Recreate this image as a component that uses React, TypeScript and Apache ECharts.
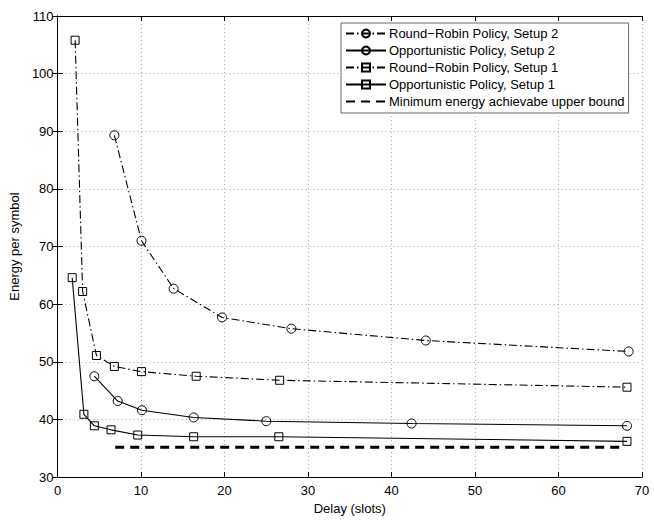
import React, { useEffect, useRef } from "react";
import * as echarts from "echarts";

const rrSetup2X = [6.8, 10.05, 13.9, 19.7, 28.0, 44.1, 68.4];
const rrSetup2Y = [89.3, 71.0, 62.7, 57.7, 55.75, 53.7, 51.8];

const opSetup2X = [4.4, 7.2, 10.1, 16.3, 25.0, 42.4, 68.2];
const opSetup2Y = [47.5, 43.2, 41.6, 40.35, 39.7, 39.3, 38.9];

const rrSetup1X = [2.1, 3.0, 4.65, 6.8, 10.05, 16.6, 26.6, 68.2];
const rrSetup1Y = [105.8, 62.2, 51.1, 49.2, 48.3, 47.5, 46.8, 45.6];

const opSetup1X = [1.75, 3.15, 4.4, 6.4, 9.6, 16.3, 26.5, 68.2];
const opSetup1Y = [64.6, 40.9, 38.9, 38.2, 37.3, 37.0, 37.0, 36.2];

const boundX = [6.9, 67.9];
const boundY = [35.2, 35.2];

const seriesNames = [
  "Round\u2212Robin Policy, Setup 2",
  "Opportunistic Policy, Setup 2",
  "Round\u2212Robin Policy, Setup 1",
  "Opportunistic Policy, Setup 1",
  "Minimum energy achievabe upper bound",
];

const xTicks = { min: 0, max: 70, interval: 10 };
const yTicks = { min: 30, max: 110, interval: 10 };

const pairs = (xs: number[], ys: number[]) => xs.map((x, i) => [x, ys[i]]);

const FONT = "Liberation Sans, Arial, Helvetica, sans-serif";
const DASHDOT = [8, 3, 1.5, 3];

export default function App() {
  const ref = useRef<HTMLDivElement>(null);
  useEffect(() => {
    if (!ref.current) return;
    const chart = echarts.init(ref.current, undefined, { renderer: "svg" });
    const markerStyle = { color: "transparent", borderColor: "#000", borderWidth: 1 };
    const mkLine = (
      name: string,
      data: number[][],
      symbol: string,
      symbolSize: number,
      dash: any
    ) => ({
      name,
      type: "line",
      data,
      symbol,
      symbolSize,
      showSymbol: true,
      itemStyle: markerStyle,
      lineStyle: { color: "#000", width: 1.1, type: dash },
      emphasis: { disabled: true },
      z: 3,
    });
    const option: any = {
      animation: false,
      backgroundColor: "#fff",
      textStyle: { fontFamily: FONT },
      grid: { left: 50, right: 12, top: 16, bottom: 38 },
      legend: {
        orient: "vertical",
        left: 341,
        top: 23,
        width: 294,
        padding: [4, 4, 5, 4],
        itemWidth: 40,
        itemHeight: 10,
        itemGap: 4,
        backgroundColor: "#fff",
        borderColor: "#666",
        borderWidth: 1,
        borderRadius: 0,
        textStyle: { fontFamily: FONT, fontSize: 13, color: "#000", lineHeight: 13, padding: [0, 0, 0, -2] },
        data: seriesNames,
        selectedMode: false,
      },
      xAxis: [
        {
          type: "value",
          ...xTicks,
          position: "bottom",
          name: "Delay (slots)",
          nameLocation: "middle",
          nameGap: 21,
          nameTextStyle: { fontFamily: FONT, fontSize: 13, color: "#000" },
          axisLine: { show: true, lineStyle: { color: "#000", width: 1 } },
          axisTick: { show: true, inside: true, length: 5, lineStyle: { color: "#000" } },
          axisLabel: { fontFamily: FONT, fontSize: 13, color: "#000", margin: 7 },
          splitLine: { show: true, lineStyle: { color: "#aaa", width: 1, type: [1, 3] } },
        },
        {
          type: "value",
          ...xTicks,
          position: "top",
          axisLine: { show: true, lineStyle: { color: "#000", width: 1 } },
          axisTick: { show: true, inside: true, length: 5, lineStyle: { color: "#000" } },
          axisLabel: { show: false },
          splitLine: { show: false },
        },
      ],
      yAxis: [
        {
          type: "value",
          ...yTicks,
          position: "left",
          name: "Energy per symbol",
          nameLocation: "middle",
          nameGap: 33,
          nameTextStyle: { fontFamily: FONT, fontSize: 13, color: "#000" },
          axisLine: { show: true, lineStyle: { color: "#000", width: 1 } },
          axisTick: { show: true, inside: true, length: 5, lineStyle: { color: "#000" } },
          axisLabel: { fontFamily: FONT, fontSize: 13, color: "#000", margin: 4 },
          splitLine: { show: true, lineStyle: { color: "#aaa", width: 1, type: [1, 3] } },
        },
        {
          type: "value",
          ...yTicks,
          position: "right",
          axisLine: { show: true, lineStyle: { color: "#000", width: 1 } },
          axisTick: { show: true, inside: true, length: 5, lineStyle: { color: "#000" } },
          axisLabel: { show: false },
          splitLine: { show: false },
        },
      ],
      series: [
        mkLine(seriesNames[0], pairs(rrSetup2X, rrSetup2Y), "circle", 9, DASHDOT),
        mkLine(seriesNames[1], pairs(opSetup2X, opSetup2Y), "circle", 9, "solid"),
        mkLine(seriesNames[2], pairs(rrSetup1X, rrSetup1Y), "rect", 8, DASHDOT),
        mkLine(seriesNames[3], pairs(opSetup1X, opSetup1Y), "rect", 8, "solid"),
        {
          name: seriesNames[4],
          type: "line",
          data: pairs(boundX, boundY),
          symbol: "none",
          itemStyle: { color: "transparent", borderColor: "transparent" },
          lineStyle: { color: "#000", width: 3, type: [9, 6] },
          emphasis: { disabled: true },
          z: 2,
        },
      ],
    };
    chart.setOption(option);
    return () => chart.dispose();
  }, []);
  return (
    <div
      ref={ref}
      style={{ position: "fixed", left: 0, top: 0, width: 654, height: 520, background: "#fff" }}
    />
  );
}
